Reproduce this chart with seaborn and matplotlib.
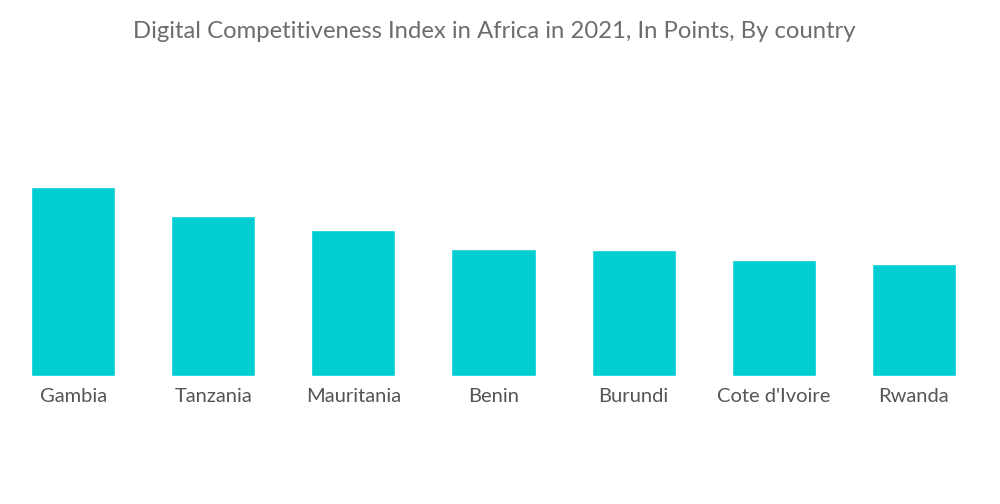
import matplotlib
matplotlib.use("Agg")
import pandas as pd
import seaborn as sns
import matplotlib.pyplot as plt

# values (relative bar heights)
countries = ['Gambia', 'Tanzania', 'Mauritania', 'Benin', 'Burundi', "Cote d'Ivoire", 'Rwanda']
scores = [189.3, 159.7, 145.7, 126.7, 125.7, 116.0, 112.0]

df = pd.DataFrame({'Country': countries, 'Score': scores})

sns.set_style('white')
plt.rcParams['font.family'] = ['Lato', 'DejaVu Sans']

fig = plt.figure(figsize=(10, 5.04), dpi=100)
ax = fig.add_axes([0.003, 128 / 504, 0.981, 276 / 504])

sns.barplot(data=df, x='Country', y='Score', color='#00ced1', width=0.6,
            saturation=1, ax=ax)

ax.set_xlim(-0.5, 6.5)
ax.set_ylim(0, 276)
ax.set_xlabel('')
ax.set_ylabel('')
ax.set_yticks([])
ax.tick_params(axis='x', length=0, pad=9, labelsize=14.5, labelcolor='#555555')
sns.despine(ax=ax, left=True, bottom=True)

fig.text(0.494, 0.937, 'Digital Competitiveness Index in Africa in 2021, In Points, By country',
         ha='center', va='center', fontsize=17.2, color='#6d6d6d')

fig.savefig('out.png', dpi=100)
